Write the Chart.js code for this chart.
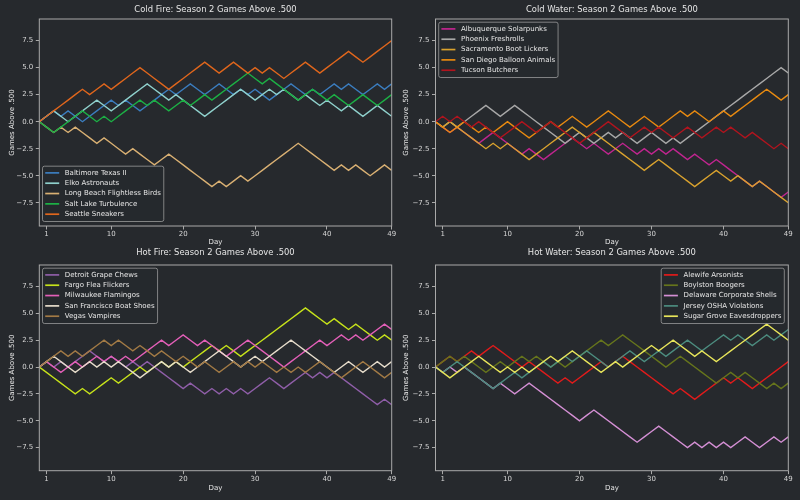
<!DOCTYPE html>
<html lang="en">
<head>
<meta charset="UTF-8">
<title>Season 2 Games Above .500</title>
<script src="https://cdn.jsdelivr.net/npm/chart.js"></script>
<style>
  body { margin: 0; background: #26292d; }
  #wrap { position: relative; width: 800px; height: 500px; overflow: hidden; }
  canvas { position: absolute; }
</style>
</head>
<body>
<div id="wrap">
  <canvas id="coldFire" width="400" height="255" style="left:0;top:0"></canvas>
  <canvas id="coldWater" width="400" height="255" style="left:400px;top:0"></canvas>
  <canvas id="hotFire" width="400" height="260" style="left:0;top:240px"></canvas>
  <canvas id="hotWater" width="400" height="260" style="left:400px;top:240px"></canvas>
</div>
<script>
// days of the season (day 0 = start)
const days = [0,1,2,3,4,5,6,7,8,9,10,11,12,13,14,15,16,17,18,19,20,21,22,23,24,25,26,27,28,29,30,31,32,33,34,35,36,37,38,39,40,41,42,43,44,45,46,47,48,49];
const xTicks = [1, 10, 20, 30, 40, 49];
const yTicks = [-7.5, -5, -2.5, 0, 2.5, 5, 7.5];

// Cold Fire
const coldFireTeams = ['Baltimore Texas II', 'Elko Astronauts', 'Long Beach Flightless Birds', 'Salt Lake Turbulence', 'Seattle Sneakers'];
const baltimore = [0,0.5,1,0.5,1,0.5,0,0.5,1,1.5, 2,1.5,2,1.5,1,1.5,2,2.5,3,2.5, 3,3.5,3,2.5,3,3.5,3,2.5,3,2.5, 3,2.5,2,2.5,3,3.5,3,2.5,3,2.5, 3,3.5,3,3.5,3,2.5,3,3.5,3,3.5];
const elko = [0,0.5,1,0.5,0,0.5,1,1.5,2,1.5, 1,1.5,2,2.5,3,3.5,3,2.5,2,2.5, 2,1.5,1,0.5,1,1.5,2,2.5,3,2.5, 2,2.5,3,2.5,3,2.5,2,2.5,2,1.5, 2,1.5,1,1.5,1,0.5,1,1.5,1,0.5];
const longBeach = [0,-0.5,-1,-0.5,-1,-0.5,-1,-1.5,-2,-1.5, -2,-2.5,-3,-2.5,-3,-3.5,-4,-3.5,-3,-3.5, -4,-4.5,-5,-5.5,-6,-5.5,-6,-5.5,-5,-5.5, -5,-4.5,-4,-3.5,-3,-2.5,-2,-2.5,-3,-3.5, -4,-4.5,-4,-4.5,-4,-4.5,-5,-4.5,-4,-4.5];
const saltLake = [0,-0.5,-1,-0.5,0,0.5,1,0.5,0,0.5, 0,0.5,1,1.5,2,1.5,2,1.5,1,1.5, 2,1.5,2,2.5,2,2.5,3,3.5,4,4.5, 4,3.5,4,3.5,3,2.5,2,2.5,3,2.5, 2,2.5,2,1.5,2,2.5,2,1.5,2,2.5];
const seattle = [0,0.5,1,1.5,2,2.5,3,2.5,3,3.5, 3,3.5,4,4.5,5,4.5,4,3.5,3,3.5, 4,4.5,5,5.5,5,4.5,5,5.5,5,4.5, 5,4.5,5,4.5,4,4.5,5,5.5,5,4.5, 5,5.5,6,6.5,6,5.5,6,6.5,7,7.5];

// Cold Water
const coldWaterTeams = ['Albuquerque Solarpunks', 'Phoenix Freshrolls', 'Sacramento Boot Lickers', 'San Diego Balloon Animals', 'Tucson Butchers'];
const albuquerque = [0,-0.5,-1,-0.5,-1,-1.5,-2,-1.5,-1,-1.5, -2,-2.5,-3,-2.5,-3,-3.5,-3,-2.5,-2,-1.5, -2,-2.5,-2,-2.5,-3,-2.5,-2,-2.5,-3,-2.5, -3,-2.5,-3,-2.5,-3,-3.5,-3,-3.5,-4,-3.5, -4,-4.5,-5,-5.5,-6,-5.5,-6,-6.5,-7,-6.5];
const phoenix = [0,-0.5,0,-0.5,0,0.5,1,1.5,1,0.5, 1,1.5,1,0.5,0,-0.5,-1,-1.5,-2,-1.5, -1,-1.5,-2,-1.5,-1,-1.5,-1,-1.5,-2,-1.5, -1,-1.5,-2,-1.5,-2,-1.5,-1,-0.5,0,0.5, 1,1.5,2,2.5,3,3.5,4,4.5,5,4.5];
const sacramento = [0,-0.5,0,-0.5,-1,-1.5,-2,-2.5,-2,-2.5, -2,-2.5,-3,-3.5,-3,-2.5,-2,-1.5,-1,-0.5, -1,-1.5,-1,-1.5,-2,-2.5,-3,-3.5,-4,-4.5, -4,-3.5,-4,-4.5,-5,-5.5,-6,-5.5,-5,-4.5, -5,-5.5,-5,-5.5,-6,-5.5,-6,-6.5,-7,-7.5];
const sanDiego = [0,-0.5,-1,-0.5,0,-0.5,-1,-0.5,-1,-0.5, 0,-0.5,-1,-1.5,-1,-0.5,0,-0.5,0,0.5, 0,-0.5,0,0.5,1,0.5,0,-0.5,0,0.5, 0,-0.5,0,0.5,1,0.5,1,0.5,0,0.5, 1,0.5,1,1.5,2,2.5,3,2.5,2,2.5];
const tucson = [0,0.5,0,0.5,0,-0.5,0,-0.5,-1,-1.5, -1,-0.5,0,-0.5,-1,-0.5,0,-0.5,-1,-1.5, -2,-1.5,-1,-0.5,0,-0.5,-1,-1.5,-1,-0.5, -1,-0.5,-1,-1.5,-1,-0.5,-1,-1.5,-1,-0.5, -1,-0.5,-1,-1.5,-1,-1.5,-2,-2.5,-2,-2.5];

// Hot Fire
const hotFireTeams = ['Detroit Grape Chews', 'Fargo Flea Flickers', 'Milwaukee Flamingos', 'San Francisco Boat Shoes', 'Vegas Vampires'];
const detroit = [0,0.5,0,0.5,0,0.5,1,1.5,1,0.5, 1,0.5,0,0.5,0,0.5,0,-0.5,-1,-1.5, -2,-1.5,-2,-2.5,-2,-2.5,-2,-2.5,-2,-2.5, -2,-1.5,-1,-1.5,-2,-1.5,-1,-0.5,-1,-0.5, -1,-0.5,-1,-1.5,-2,-2.5,-3,-3.5,-3,-3.5];
const fargo = [0,-0.5,-1,-1.5,-2,-2.5,-2,-2.5,-2,-1.5, -1,-1.5,-1,-0.5,0,-0.5,0,0.5,0,0.5, 0,0.5,1,1.5,2,1.5,2,1.5,1,1.5, 2,2.5,3,3.5,4,4.5,5,5.5,5,4.5, 4,4.5,4,3.5,4,3.5,3,2.5,3,2.5];
const milwaukee = [0,0.5,0,-0.5,0,0.5,0,0.5,1,0.5, 1,0.5,1,0.5,1,1.5,2,2.5,2,2.5, 3,2.5,2,2.5,2,1.5,1,1.5,2,2.5, 2,1.5,1,0.5,0,0.5,1,1.5,2,2.5, 2,2.5,3,2.5,3,2.5,3,3.5,4,3.5];
const sanFrancisco = [0,0.5,1,0.5,0,-0.5,0,0.5,0,0.5, 0,0.5,0,-0.5,-1,-0.5,0,0.5,0,0.5, 0,-0.5,0,0.5,1,1.5,1,0.5,0,0.5, 1,0.5,1,1.5,2,2.5,2,1.5,1,0.5, 0,-0.5,0,0.5,0,-0.5,0,0.5,0,0.5];
const vegas = [0,0.5,1,1.5,1,1.5,1,1.5,2,2.5, 2,2.5,2,1.5,2,1.5,1,1.5,1,0.5, 1,0.5,0,0.5,0,-0.5,0,0.5,0,0.5, 0,0.5,0,-0.5,0,-0.5,0,-0.5,0,0.5, 0,-0.5,-1,-0.5,0,0.5,0,-0.5,-1,-0.5];

// Hot Water
const hotWaterTeams = ['Alewife Arsonists', 'Boylston Boogers', 'Delaware Corporate Shells', 'Jersey OSHA Violations', 'Sugar Grove Eavesdroppers'];
const alewife = [0,0.5,1,0.5,1,1.5,1,1.5,2,1.5, 1,0.5,0,0.5,0,-0.5,-1,-1.5,-1,-1.5, -1,-0.5,0,0.5,0,0.5,1,0.5,0,-0.5, -1,-1.5,-2,-2.5,-2,-2.5,-3,-2.5,-2,-1.5, -1,-1.5,-1,-1.5,-2,-1.5,-1,-0.5,0,0.5];
const boylston = [0,0.5,1,0.5,1,0.5,0,-0.5,0,0.5, 0,0.5,1,0.5,1,0.5,0,0.5,0,0.5, 1,1.5,2,2.5,2,2.5,3,2.5,2,1.5, 1,0.5,0,0.5,1,0.5,0,-0.5,-1,-1.5, -1,-0.5,-1,-0.5,-1,-1.5,-2,-1.5,-2,-1.5];
const delaware = [0,-0.5,0,-0.5,0,-0.5,-1,-1.5,-2,-1.5, -2,-2.5,-2,-1.5,-2,-2.5,-3,-3.5,-4,-4.5, -5,-4.5,-4,-4.5,-5,-5.5,-6,-6.5,-7,-6.5, -6,-5.5,-6,-6.5,-7,-7.5,-7,-7.5,-7,-7.5, -7,-7.5,-7,-6.5,-7,-7.5,-7,-6.5,-7,-6.5];
const jersey = [0,-0.5,0,0.5,0,-0.5,-1,-1.5,-2,-1.5, -1,-0.5,-1,-0.5,0,0.5,0,0.5,1,0.5, 1,1.5,1,0.5,0,0.5,1,1.5,1,0.5, 1,1.5,1,1.5,2,2.5,2,1.5,2,2.5, 3,2.5,3,2.5,2,2.5,3,2.5,3,3.5];
const sugarGrove = [0,-0.5,-1,-0.5,0,0.5,1,0.5,0,-0.5, 0,-0.5,0,-0.5,0,0.5,1,0.5,1,1.5, 1,0.5,0,-0.5,0,0.5,0,0.5,1,1.5, 2,1.5,2,2.5,2,1.5,1,1.5,1,0.5, 1,1.5,2,2.5,3,3.5,4,3.5,3,2.5];

const fontFam = '"DejaVu Sans", sans-serif';
const textColor = '#e6e6e6';
const tickColor = '#d6d6d6';
const spine = '#a9a9a9';
const yMin = -9.65, yMax = 9.5;

// box round the plot area (all four spines)
const frame = {
  id: 'frame',
  afterDatasetsDraw(chart) {
    const { ctx, chartArea: a } = chart;
    ctx.save();
    ctx.strokeStyle = spine;
    ctx.lineWidth = 1;
    ctx.strokeRect(a.left, a.top, a.right - a.left, a.bottom - a.top);
    ctx.restore();
  }
};

// matplotlib-like legend inside the plot
const legendBox = {
  id: 'legendBox',
  afterDatasetsDraw(chart, args, opts) {
    const { ctx, chartArea: a } = chart;
    const sets = chart.data.datasets;
    const pitch = 10.33;
    ctx.save();
    ctx.font = '7px ' + fontFam;
    const tw = Math.max(...sets.map(s => ctx.measureText(s.label).width));
    const w = 2.7 + 14 + 5.6 + tw + 3;
    const h = 6.7 + pitch * (sets.length - 1) + 7.3;
    const x = opts.corner.endsWith('right') ? a.right - 4 - w : a.left + 3.2;
    const y = opts.corner.startsWith('lower') ? a.bottom - 4.5 - h : a.top + 3.2;
    ctx.beginPath();
    ctx.roundRect(x, y, w, h, 2);
    ctx.fillStyle = 'rgba(38,41,45,0.8)';
    ctx.fill();
    ctx.strokeStyle = 'rgba(175,175,175,0.85)';
    ctx.lineWidth = 0.8;
    ctx.stroke();
    ctx.textBaseline = 'middle';
    ctx.textAlign = 'left';
    sets.forEach((s, i) => {
      const ry = y + 6.7 + i * pitch;
      ctx.beginPath();
      ctx.moveTo(x + 2.7, ry);
      ctx.lineTo(x + 16.7, ry);
      ctx.strokeStyle = s.borderColor;
      ctx.lineWidth = 1.7;
      ctx.stroke();
      ctx.fillStyle = textColor;
      ctx.fillText(s.label, x + 22.3, ry);
    });
    ctx.restore();
  }
};

function fmt(v) {
  return v.toFixed(1).replace('-', '\u2212');
}

function makeChart(id, title, names, series, colors, g) {
  const small = { family: fontFam, size: 7, weight: 'normal', lineHeight: 1.2 };
  new Chart(document.getElementById(id), {
    type: 'line',
    data: {
      datasets: names.map((n, i) => ({
        label: n,
        data: days.map((d, j) => ({ x: d, y: series[i][j] })),
        borderColor: colors[i],
        backgroundColor: colors[i],
        borderWidth: 1.4,
        pointRadius: 0,
        tension: 0,
        fill: false,
        order: -i
      }))
    },
    options: {
      responsive: false,
      animation: false,
      layout: { padding: { left: 0, right: g.padRight, top: 0, bottom: 0 } },
      plugins: {
        legend: { display: false },
        tooltip: { enabled: false },
        title: {
          display: true, text: title, color: textColor, fullSize: false,
          font: { family: fontFam, size: 8.4, weight: 'normal', lineHeight: 1.2 },
          padding: { top: g.titleTop, bottom: g.titleBottom }
        },
        legendBox: { corner: g.corner }
      },
      scales: {
        x: {
          type: 'linear', min: 0, max: 49,
          afterBuildTicks: s => { s.ticks = xTicks.map(v => ({ value: v })); },
          afterFit: s => { s.height = g.xHeight; },
          grid: { drawOnChartArea: false, drawTicks: true, tickLength: 3.5, tickColor: spine, color: spine },
          border: { display: false },
          ticks: { color: tickColor, font: small, padding: 0.5, maxRotation: 0, autoSkip: false },
          title: { display: true, text: 'Day', color: textColor, font: small, padding: { top: 0, bottom: g.dayPad } }
        },
        y: {
          min: yMin, max: yMax,
          afterBuildTicks: s => { s.ticks = yTicks.map(v => ({ value: v })); },
          afterFit: s => { s.width = g.yWidth; },
          grid: { drawOnChartArea: false, drawTicks: true, tickLength: 3.5, tickColor: spine, color: spine },
          border: { display: false },
          ticks: { color: tickColor, font: small, padding: 2.5, callback: v => fmt(v) },
          title: { display: true, text: 'Games Above .500', color: textColor, font: small, padding: { top: g.yTitlePad, bottom: 0 } }
        }
      }
    },
    plugins: [frame, legendBox]
  });
}

makeChart('coldFire', 'Cold Fire: Season 2 Games Above .500', coldFireTeams,
  [baltimore, elko, longBeach, saltLake, seattle],
  ['#3b7dbf', '#8fd0cc', '#d9b073', '#1cb045', '#e0661c'],
  { yWidth: 39.3, padRight: 8.3, titleTop: 4.96, titleBottom: 3.96, xHeight: 29, dayPad: 8.3, yTitlePad: 7.8, corner: 'lower left' });

makeChart('coldWater', 'Cold Water: Season 2 Games Above .500', coldWaterTeams,
  [albuquerque, phoenix, sacramento, sanDiego, tucson],
  ['#c0258f', '#a8a8a8', '#d9a22e', '#e88a10', '#b0141e'],
  { yWidth: 35.5, padRight: 11.7, titleTop: 4.96, titleBottom: 3.96, xHeight: 29, dayPad: 8.3, yTitlePad: 2.3, corner: 'upper left' });

makeChart('hotFire', 'Hot Fire: Season 2 Games Above .500', hotFireTeams,
  [detroit, fargo, milwaukee, sanFrancisco, vegas],
  ['#8f5ea8', '#c6e21a', '#e35fb8', '#e6dccb', '#a27a45'],
  { yWidth: 39.3, padRight: 8.3, titleTop: 7.96, titleBottom: 6.96, xHeight: 29.3, dayPad: 7.8, yTitlePad: 7.8, corner: 'upper left' });

makeChart('hotWater', 'Hot Water: Season 2 Games Above .500', hotWaterTeams,
  [alewife, boylston, delaware, jersey, sugarGrove],
  ['#e01b1b', '#66751c', '#d48fd4', '#4c8c7f', '#e8e55a'],
  { yWidth: 35.5, padRight: 11.7, titleTop: 7.96, titleBottom: 6.96, xHeight: 29.3, dayPad: 7.8, yTitlePad: 2.3, corner: 'upper right' });
</script>
</body>
</html>
